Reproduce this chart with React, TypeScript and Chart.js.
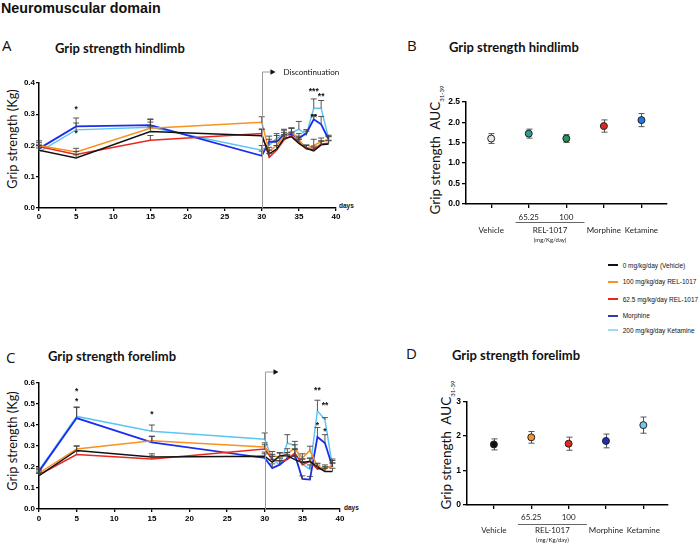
import React, { useEffect, useRef } from 'react';
import { Chart, registerables } from 'chart.js';
Chart.register(...registerables);

// ---------------- data ----------------
const days = [0, 5, 15, 30, 31, 32, 33, 34, 35, 36, 37, 38, 39];
const groupNames = [
  '0 mg/kg/day (Vehicle)',
  '100 mg/kg/day REL-1017',
  '62.5 mg/kg/day REL-1017',
  'Morphine',
  '200 mg/kg/day Ketamine',
];
const lineColors = ['#111111', '#f7931e', '#e8271f', '#1a2cf0', '#5ec5f3'];
const legendColors = ['#111111', '#f7931e', '#e8271f', '#2c40a8', '#a3d9f3'];

// Hindlimb grip strength (Kg)
const hindVehicle = [0.185, 0.16, 0.245, 0.231, 0.173, 0.188, 0.223, 0.228, 0.207, 0.191, 0.183, 0.202, 0.205];
const hindRel100 = [0.2, 0.179, 0.255, 0.274, 0.182, 0.2, 0.23, 0.244, 0.218, 0.191, 0.2, 0.212, 0.218];
const hindRel62 = [0.197, 0.171, 0.217, 0.238, 0.162, 0.185, 0.218, 0.231, 0.212, 0.189, 0.188, 0.205, 0.207];
const hindMorphine = [0.19, 0.261, 0.265, 0.167, 0.212, 0.212, 0.234, 0.236, 0.223, 0.239, 0.284, 0.268, 0.22];
const hindKetamine = [0.18, 0.25, 0.258, 0.185, 0.2, 0.223, 0.237, 0.24, 0.252, 0.234, 0.319, 0.319, 0.223];
const hindVehicleSem = [0.015, 0.01, 0.015, 0.02, 0.012, 0.012, 0.012, 0.012, 0.012, 0.01, 0.01, 0.012, 0.01];
const hindRel100Sem = [0.015, 0.012, 0.02, 0.018, 0.012, 0.015, 0.012, 0.012, 0.012, 0.01, 0.02, 0.012, 0.01];
const hindRel62Sem = [0.012, 0.01, 0.015, 0.015, 0.012, 0.015, 0.012, 0.012, 0.012, 0.012, 0.01, 0.01, 0.01];
const hindMorphineSem = [0.012, 0.027, 0.02, 0.015, 0.018, 0.02, 0.015, 0.02, 0.015, 0.012, 0.015, 0.025, 0.01];
const hindKetamineSem = [0.012, 0.022, 0.025, 0.015, 0.02, 0.015, 0.015, 0.015, 0.025, 0.012, 0.03, 0.025, 0.01];
const hindStarDays = [5, 5, 37, 38, 37];
const hindStarValues = [0.315, 0.237, 0.372, 0.356, 0.29];
const hindStarTexts = ['*', '*', '***', '**', '**'];

// Forelimb grip strength (Kg)
const foreVehicle = [0.159, 0.279, 0.248, 0.251, 0.222, 0.254, 0.254, 0.235, 0.222, 0.227, 0.2, 0.179, 0.179];
const foreRel100 = [0.171, 0.286, 0.325, 0.295, 0.254, 0.246, 0.267, 0.286, 0.243, 0.279, 0.203, 0.187, 0.211];
const foreRel62 = [0.163, 0.259, 0.238, 0.286, 0.235, 0.227, 0.235, 0.267, 0.211, 0.227, 0.19, 0.195, 0.203];
const foreMorphine = [0.179, 0.433, 0.317, 0.243, 0.195, 0.211, 0.24, 0.259, 0.143, 0.14, 0.343, 0.314, 0.2];
const foreKetamine = [0.184, 0.441, 0.37, 0.332, 0.235, 0.211, 0.314, 0.302, 0.214, 0.19, 0.468, 0.425, 0.203];
const foreVehicleSem = [0.01, 0.02, 0.015, 0.02, 0.015, 0.015, 0.015, 0.015, 0.015, 0.015, 0.015, 0.015, 0.015];
const foreRel100Sem = [0.01, 0.015, 0.02, 0.02, 0.02, 0.02, 0.02, 0.02, 0.02, 0.02, 0.015, 0.015, 0.02];
const foreRel62Sem = [0.01, 0.015, 0.015, 0.02, 0.015, 0.015, 0.02, 0.02, 0.015, 0.015, 0.015, 0.015, 0.015];
const foreMorphineSem = [0.01, 0.05, 0.03, 0.02, 0.02, 0.02, 0.02, 0.025, 0.015, 0.015, 0.045, 0.04, 0.02];
const foreKetamineSem = [0.01, 0.045, 0.03, 0.03, 0.025, 0.02, 0.04, 0.02, 0.025, 0.02, 0.05, 0.01, 0.035];
const foreStarDays = [5, 5, 15, 37, 38, 37, 38];
const foreStarValues = [0.56, 0.51, 0.449, 0.565, 0.49, 0.395, 0.368];
const foreStarTexts = ['*', '*', '*', '**', '**', '*', '*'];

// AUC 31-39
const aucCategories = ['Vehicle', '65.25', '100', 'Morphine', 'Ketamine'];
const aucIsDose = [false, true, true, false, false];
const hindAuc = [1.6, 1.72, 1.6, 1.905, 2.05];
const hindAucErr = [0.12, 0.11, 0.095, 0.15, 0.16];
const hindAucColors = ['#e8e8e8', '#2f9c98', '#2f8f5a', '#e52522', '#1f78e0'];
const foreAuc = [1.76, 1.965, 1.78, 1.86, 2.32];
const foreAucErr = [0.16, 0.17, 0.19, 0.2, 0.235];
const foreAucColors = ['#111111', '#f7931e', '#e8271f', '#1d2fb5', '#6ccaf2'];

// ---------------- helpers ----------------
const tickFont = { family: '"Liberation Sans", Arial, sans-serif', size: 8, weight: 'bold' as const };
const axisGrid = { display: true, drawOnChartArea: false, drawTicks: true, tickLength: 3, color: '#000', lineWidth: 1.3 };
const axisBorder = { display: true, color: '#000', width: 1.5 };

function lineErrorPlugin(sems: number[][]) {
  return {
    id: 'lineErr',
    afterDatasetsDraw(chart: any) {
      const { ctx } = chart;
      const x = chart.scales.x, y = chart.scales.y;
      ctx.save();
      ctx.strokeStyle = '#444';
      ctx.lineWidth = 0.9;
      chart.data.datasets.forEach((ds: any, di: number) => {
        ds.data.forEach((p: any, j: number) => {
          const px = x.getPixelForValue(p.x);
          const py = y.getPixelForValue(p.y);
          const pt = y.getPixelForValue(p.y + sems[di][j]);
          ctx.beginPath();
          ctx.moveTo(px, py);
          ctx.lineTo(px, pt);
          ctx.moveTo(px - 3, pt);
          ctx.lineTo(px + 3, pt);
          ctx.stroke();
        });
      });
      ctx.restore();
    },
  };
}

function starsPlugin(sx: number[], sy: number[], st: string[]) {
  return {
    id: 'stars',
    afterDatasetsDraw(chart: any) {
      const { ctx } = chart;
      ctx.save();
      ctx.fillStyle = '#111';
      ctx.font = 'bold 8.5px "Liberation Sans", Arial, sans-serif';
      ctx.textAlign = 'center';
      ctx.textBaseline = 'middle';
      sx.forEach((d, i) => {
        ctx.fillText(st[i], chart.scales.x.getPixelForValue(d), chart.scales.y.getPixelForValue(sy[i]));
      });
      ctx.restore();
    },
  };
}

function discontinuationPlugin(label: string) {
  return {
    id: 'disc',
    afterDraw(chart: any) {
      const { ctx, chartArea } = chart;
      const x = Math.round(chart.scales.x.getPixelForValue(30)) + 0.5;
      const top = chartArea.top - 11;
      ctx.save();
      ctx.strokeStyle = '#9a9a9a';
      ctx.lineWidth = 1;
      ctx.beginPath();
      ctx.moveTo(x, chartArea.bottom);
      ctx.lineTo(x, top);
      ctx.lineTo(x + 9, top);
      ctx.stroke();
      ctx.fillStyle = '#111';
      ctx.beginPath();
      ctx.moveTo(x + 13, top);
      ctx.lineTo(x + 8, top - 2.8);
      ctx.lineTo(x + 8, top + 2.8);
      ctx.closePath();
      ctx.fill();
      if (label) {
        ctx.font = '8px Lato, sans-serif';
        ctx.textBaseline = 'middle';
        ctx.textAlign = 'left';
        ctx.fillText(label, x + 21, top);
      }
      ctx.restore();
    },
  };
}

function makeLineChart(canvas: HTMLCanvasElement, o: any) {
  return new Chart(canvas, {
    type: 'line',
    data: {
      datasets: o.series.map((vals: number[], i: number) => ({
        label: groupNames[i],
        data: days.map((d, j) => ({ x: d, y: vals[j] })),
        borderColor: lineColors[i],
        backgroundColor: lineColors[i],
        borderWidth: i === 3 ? 1.8 : 1.5,
        pointRadius: 0,
        tension: 0,
        fill: false,
      })),
    },
    options: {
      responsive: false,
      animation: false,
      layout: { padding: { left: 0, top: o.padTop, right: o.padRight, bottom: 0 } },
      plugins: { legend: { display: false }, tooltip: { enabled: false } },
      scales: {
        x: {
          type: 'linear',
          min: 0,
          max: 40,
          ticks: { stepSize: 5, font: tickFont, color: '#000', padding: o.xPad, maxRotation: 0, autoSkip: false },
          grid: axisGrid,
          border: axisBorder,
          afterFit: (s: any) => { s.height = o.xHeight; },
        },
        y: {
          min: 0,
          max: o.yMax,
          ticks: { stepSize: 0.1, font: tickFont, color: '#000', padding: 1, callback: (v: any) => Number(v).toFixed(1) },
          grid: axisGrid,
          border: axisBorder,
          afterFit: (s: any) => { s.width = 39; },
        },
      },
    } as any,
    plugins: [lineErrorPlugin(o.sems), starsPlugin(o.sx, o.sy, o.st), discontinuationPlugin(o.label)],
  });
}

function dotErrorPlugin(errs: number[]) {
  return {
    id: 'dotErr',
    beforeDatasetsDraw(chart: any) {
      const { ctx } = chart;
      const x = chart.scales.x, y = chart.scales.y;
      ctx.save();
      ctx.strokeStyle = '#555';
      ctx.lineWidth = 1;
      chart.data.datasets[0].data.forEach((p: any, i: number) => {
        const px = Math.round(x.getPixelForValue(p.x)) + 0.5;
        const lo = y.getPixelForValue(p.y - errs[i]);
        const hi = y.getPixelForValue(p.y + errs[i]);
        ctx.beginPath();
        ctx.moveTo(px, lo);
        ctx.lineTo(px, hi);
        ctx.moveTo(px - 3, lo);
        ctx.lineTo(px + 3, lo);
        ctx.moveTo(px - 3, hi);
        ctx.lineTo(px + 3, hi);
        ctx.stroke();
      });
      ctx.restore();
    },
  };
}

function bracketPlugin(o: any) {
  return {
    id: 'bracket',
    afterDraw(chart: any) {
      const { ctx, chartArea } = chart;
      const idx = aucIsDose.map((v, i) => (v ? i + 1 : -1)).filter((v) => v > 0);
      const x1 = chart.scales.x.getPixelForValue(idx[0]);
      const x2 = chart.scales.x.getPixelForValue(idx[idx.length - 1]);
      const c = (x1 + x2) / 2 + 2.5;
      const b = chartArea.bottom;
      ctx.save();
      ctx.strokeStyle = '#555';
      ctx.lineWidth = 0.9;
      ctx.beginPath();
      ctx.moveTo(c - 34.5, b + o.lineOff + 0.5);
      ctx.lineTo(c + 34.5, b + o.lineOff + 0.5);
      ctx.stroke();
      ctx.fillStyle = '#222';
      ctx.textAlign = 'center';
      ctx.textBaseline = 'middle';
      ctx.font = '8px Lato, sans-serif';
      ctx.fillText('REL-1017', c, b + o.relOff);
      ctx.font = '6px Lato, sans-serif';
      ctx.fillText('(mg/Kg/day)', c, b + o.unitOff);
      ctx.restore();
    },
  };
}

function makeDotChart(canvas: HTMLCanvasElement, o: any) {
  return new Chart(canvas, {
    type: 'scatter',
    data: {
      datasets: [
        {
          label: 'AUC',
          data: o.values.map((v: number, i: number) => ({ x: i + 1, y: v })),
          pointBackgroundColor: o.colors,
          pointBorderColor: '#222',
          pointBorderWidth: 1,
          pointRadius: 3.5,
          showLine: false,
        },
      ],
    },
    options: {
      responsive: false,
      animation: false,
      layout: { padding: { left: 0, top: o.padTop, right: o.padRight, bottom: 0 } },
      plugins: { legend: { display: false }, tooltip: { enabled: false } },
      scales: {
        x: {
          type: 'linear',
          min: o.xMin,
          max: o.xMax,
          afterBuildTicks: (s: any) => { s.ticks = aucCategories.map((_, i) => ({ value: i + 1 })); },
          ticks: {
            font: { family: 'Lato, sans-serif', size: 8, lineHeight: 1.625 },
            color: '#222',
            padding: o.xPad,
            maxRotation: 0,
            autoSkip: false,
            callback: (v: any) => {
              const i = Math.round(Number(v)) - 1;
              return aucIsDose[i] ? [aucCategories[i], ''] : ['', aucCategories[i]];
            },
          },
          grid: { ...axisGrid, tickLength: 4 },
          border: axisBorder,
          afterFit: (s: any) => { s.height = o.xHeight; },
        },
        y: {
          min: 0,
          max: o.yMax,
          ticks: {
            stepSize: o.yStep,
            font: { ...tickFont, size: 8.5 },
            color: '#000',
            padding: 2,
            callback: (v: any) => Number(v).toFixed(o.yDigits),
          },
          grid: { ...axisGrid, tickLength: 4 },
          border: axisBorder,
          afterFit: (s: any) => { s.width = o.yWidth; },
        },
      },
    } as any,
    plugins: [dotErrorPlugin(o.errs), bracketPlugin(o)],
  });
}

function ChartCanvas({ left, top, width, height, build }: { left: number; top: number; width: number; height: number; build: (c: HTMLCanvasElement) => Chart }) {
  const ref = useRef<HTMLCanvasElement>(null);
  useEffect(() => {
    const chart = build(ref.current as HTMLCanvasElement);
    return () => chart.destroy();
  }, []);
  return <canvas ref={ref} width={width} height={height} style={{ position: 'absolute', left, top, width, height }} />;
}

function Text({ x, y, size, bold, family, children, color }: any) {
  const lh = Math.round(size * 1.3);
  return (
    <div
      style={{
        position: 'absolute',
        left: x,
        top: y - lh / 2,
        height: lh,
        lineHeight: lh + 'px',
        fontSize: size,
        fontWeight: bold ? 700 : 400,
        fontFamily: family || 'Lato, sans-serif',
        color: color || '#111',
        whiteSpace: 'nowrap',
      }}
    >
      {children}
    </div>
  );
}

function VText({ cx, cy, size, children }: any) {
  const w = 200;
  const h = 18;
  return (
    <div
      style={{
        position: 'absolute',
        left: cx - w / 2,
        top: cy - h / 2,
        width: w,
        height: h,
        lineHeight: h + 'px',
        textAlign: 'center',
        transform: 'rotate(-90deg)',
        fontSize: size,
        fontFamily: 'Lato, sans-serif',
        color: '#111',
        whiteSpace: 'nowrap',
      }}
    >
      {children}
    </div>
  );
}

const legendRowY = [265, 281.7, 299.3, 315.7, 330];

export default function App() {
  return (
    <div style={{ position: 'absolute', left: 0, top: 0, width: 700, height: 544, background: '#fff', overflow: 'hidden' }}>
      <Text x={1} y={8} size={14.3} bold family='"Liberation Sans", Arial, sans-serif'>Neuromuscular domain</Text>

      <Text x={2} y={45} size={15} family='"Open Sans", sans-serif'>A</Text>
      <Text x={55} y={48} size={13} bold>Grip strength hindlimb</Text>
      <Text x={407} y={45} size={15} family='"Open Sans", sans-serif'>B</Text>
      <Text x={449} y={47} size={13} bold>Grip strength hindlimb</Text>
      <Text x={6} y={357} size={15} family='"Open Sans", sans-serif'>C</Text>
      <Text x={48} y={356} size={13} bold>Grip strength forelimb</Text>
      <Text x={406} y={353} size={15} family='"Open Sans", sans-serif'>D</Text>
      <Text x={452} y={355} size={13} bold>Grip strength forelimb</Text>

      <VText cx={11.5} cy={139} size={12.8}>Grip strength (Kg)</VText>
      <VText cx={12} cy={441} size={12.8}>Grip strength (Kg)</VText>
      <VText cx={435} cy={150} size={13.5}>
        Grip strength&nbsp; AUC<sub style={{ fontSize: 6 }}>31-39</sub>
      </VText>
      <VText cx={446} cy={445} size={13.5}>
        Grip strength&nbsp; AUC<sub style={{ fontSize: 6 }}>31-39</sub>
      </VText>

      <Text x={339} y={206} size={6.5} bold family='"Liberation Sans", Arial, sans-serif'>days</Text>
      <Text x={344} y={508} size={6.5} bold family='"Liberation Sans", Arial, sans-serif'>days</Text>

      <ChartCanvas
        left={0}
        top={60}
        width={350}
        height={175}
        build={(c) =>
          makeLineChart(c, {
            series: [hindVehicle, hindRel100, hindRel62, hindMorphine, hindKetamine],
            sems: [hindVehicleSem, hindRel100Sem, hindRel62Sem, hindMorphineSem, hindKetamineSem],
            sx: hindStarDays,
            sy: hindStarValues,
            st: hindStarTexts,
            label: 'Discontinuation',
            yMax: 0.4,
            padTop: 23,
            padRight: 14,
            xHeight: 27,
            xPad: 1,
          })
        }
      />
      <ChartCanvas
        left={0}
        top={360}
        width={350}
        height={175}
        build={(c) =>
          makeLineChart(c, {
            series: [foreVehicle, foreRel100, foreRel62, foreMorphine, foreKetamine],
            sems: [foreVehicleSem, foreRel100Sem, foreRel62Sem, foreMorphineSem, foreKetamineSem],
            sx: foreStarDays,
            sy: foreStarValues,
            st: foreStarTexts,
            label: '',
            yMax: 0.6,
            padTop: 23,
            padRight: 10,
            xHeight: 26,
            xPad: 2,
          })
        }
      />
      <ChartCanvas
        left={380}
        top={80}
        width={320}
        height={175}
        build={(c) =>
          makeDotChart(c, {
            values: hindAuc,
            errs: hindAucErr,
            colors: hindAucColors,
            xMin: 0.33,
            xMax: 5.68,
            yMax: 2.5,
            yStep: 0.5,
            yDigits: 1,
            padTop: 21.7,
            padRight: 33,
            yWidth: 86,
            xHeight: 51,
            xPad: 2.5,
            lineOff: 18,
            relOff: 26,
            unitOff: 36,
          })
        }
      />
      <ChartCanvas
        left={380}
        top={380}
        width={320}
        height={164}
        build={(c) =>
          makeDotChart(c, {
            values: foreAuc,
            errs: foreAucErr,
            colors: foreAucColors,
            xMin: 0.28,
            xMax: 5.66,
            yMax: 3,
            yStep: 1,
            yDigits: 0,
            padTop: 21.7,
            padRight: 32,
            yWidth: 87,
            xHeight: 39,
            xPad: 2.2,
            lineOff: 19,
            relOff: 25.7,
            unitOff: 35,
          })
        }
      />

      {groupNames.map((n, i) => (
        <div
          key={n}
          style={{
            position: 'absolute',
            left: 608,
            top: legendRowY[i] - 5,
            height: 10,
            display: 'flex',
            alignItems: 'center',
            fontSize: 6.5,
            fontFamily: '"Liberation Sans", Arial, sans-serif',
            color: '#111',
            whiteSpace: 'nowrap',
          }}
        >
          <span style={{ display: 'inline-block', width: 10, height: 2, background: legendColors[i], marginRight: 4.7 }} />
          {n}
        </div>
      ))}
    </div>
  );
}
